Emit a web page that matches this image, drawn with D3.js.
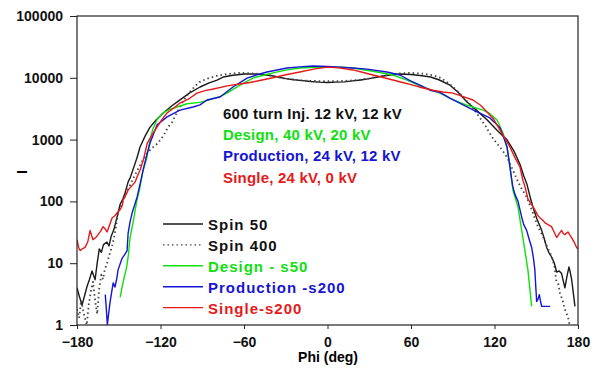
<!DOCTYPE html>
<html>
<head>
<meta charset="utf-8">
<script src="https://cdn.jsdelivr.net/npm/d3@7"></script>
<style>
  body { margin: 0; background: #fff; }
  svg { display: block; font-family: "Liberation Sans", Arial, sans-serif; }
  .tick text { font-size: 14px; font-weight: bold; fill: #111; }
  .domain { display: none; }
</style>
</head>
<body>
<svg id="chart" width="599" height="368"></svg>
<script>
// values: [phi (deg), I]
var spin50 = [[-180,4.0],[-178.5,3.0],[-176.4,2.1],[-174.5,3.0],[-172.8,4.2],[-171,5.5],[-169.2,7.5],[-167,5.4],[-165.5,10],[-164,17],[-162.5,15],[-161,20],[-158.5,22],[-157,19],[-155.5,27],[-153.5,35],[-152,48],[-150.5,65],[-149,90],[-147,110],[-145.5,137],[-143.3,205],[-141.5,250],[-139.7,330],[-137,500],[-134.7,760],[-131,1150],[-127.5,1590],[-123,2100],[-118,2700],[-112,3500],[-106,4400],[-99,5700],[-91.6,7100],[-85,8300],[-79.4,9200],[-75,10300],[-68,11000],[-60,11500],[-52,11500],[-45,11200],[-40,10800],[-35,10200],[-30,9700],[-24,9300],[-18,9000],[-12,8700],[-6,8500],[0,8400],[6,8500],[12,8600],[18,8900],[24,9200],[30,9700],[35,10200],[40,10700],[46,11200],[52,11500],[60,11300],[68,10800],[74,10300],[80,9300],[88,7600],[94,5800],[100,4100],[107,3000],[114.6,2100],[122,1400],[129,990],[134,650],[138.3,400],[141,260],[143.3,190],[145.5,120],[147.6,81],[150.5,52],[153.9,34],[155.5,26],[157.5,18],[159,15],[161,12.6],[163,10],[164.7,7.2],[166.5,7.5],[168.2,6.8],[170.6,4],[172,6],[173.5,8.7],[174.5,7],[175.4,5.5],[176.5,3.5],[177.8,2]];

var spin400 = [[-180,1.8],[-178.5,1.3],[-177,2.5],[-175,1.5],[-173,1],[-171.5,2.2],[-170,3.5],[-168.5,5],[-167,2.5],[-165.5,1.5],[-164,4],[-162.5,6.5],[-161.3,5.5],[-160,8],[-158.4,10],[-156.3,14.6],[-154.5,20],[-152.7,31],[-150.5,65],[-147.6,94],[-145,130],[-142,180],[-139,250],[-136,340],[-133,450],[-130,580],[-127,700],[-124,800],[-121.7,880],[-118,1150],[-114.5,1600],[-111.7,1900],[-108,2800],[-104,4100],[-100,5500],[-96,7000],[-92,8500],[-87,9600],[-80,10700],[-72,11500],[-64,12000],[-56,11900],[-48,11500],[-42,11000],[-36,10300],[-30,9700],[-22,9200],[-12,8900],[0,8800],[12,8900],[22,9200],[30,9800],[36,10400],[44,11200],[52,11800],[60,12000],[68,11700],[76,11000],[82,9800],[88,7800],[92.8,6300],[97,5000],[102,3800],[106,2900],[109.6,2240],[114,1600],[118.2,1100],[122,850],[125.5,680],[129,520],[133,330],[136,230],[139.5,160],[143.1,118],[147.6,65],[151,40],[154.8,27],[158,18],[161.3,12.6],[163,9],[164.5,5],[166,4.5],[167,3.3],[169,2.5],[170.5,1.8],[172.8,1.35],[174,1]];

var design = [[-149,2.8],[-147.5,4.2],[-146,6],[-144.3,8.7],[-143,14],[-141.9,26],[-139.5,48],[-137.1,100],[-135,160],[-132.5,320],[-129.9,500],[-127.5,1000],[-125.4,1500],[-122.5,2100],[-118.2,2700],[-113,3100],[-108.1,3370],[-100.9,3800],[-91.6,4000],[-86.6,4300],[-82.3,4600],[-77,5000],[-72.2,5650],[-62.9,7600],[-53.5,9900],[-46,11000],[-39.2,12000],[-30,13300],[-19.8,14400],[-10,14800],[0,14900],[10,14800],[18.3,14400],[27,13400],[35.6,12400],[47,11100],[57.1,9200],[68.6,7100],[80.8,5650],[90.2,4400],[100.2,3600],[106,3300],[111.7,3000],[116,2700],[121.8,2080],[126.1,1280],[129,760],[131.1,360],[133.3,150],[136.9,80],[140.4,26],[144,7.8],[146.7,2.0]];

var production = [[-159.7,3.1],[-158.9,1.8],[-158.2,1.0],[-157.3,1.5],[-156.3,2.3],[-155,3.5],[-154,4.8],[-152.7,4.1],[-151.5,5.5],[-150.5,7.8],[-147.6,12],[-145.5,14],[-144,16],[-143.3,30],[-142,45],[-140.4,65],[-136.8,118],[-134.5,200],[-132.5,320],[-130,550],[-127.5,880],[-122.5,1730],[-115.3,2330],[-106,3000],[-96.6,3370],[-91.6,3640],[-86.6,4370],[-77.2,4900],[-67.9,7100],[-57.8,9900],[-50,11300],[-43.5,12400],[-29.1,14400],[-20,15000],[-10.4,15500],[0,15300],[9,14900],[18,14400],[28.4,13800],[42.7,12400],[52,11100],[59.3,9000],[66,7700],[73.6,6300],[80.8,5800],[88,4700],[95,3900],[102.4,3200],[109,2700],[116.7,2240],[120,1900],[123.9,1550],[126.5,1100],[129,760],[131.1,360],[133,180],[134.7,130],[136.9,100],[139.5,56],[141,42],[143.1,34],[145,24],[146.7,18],[148,12],[149,7.8],[149.7,4],[150.3,2.4],[151.2,2.6],[152.2,3.1],[153.1,2.4],[153.9,2.0],[160,2.0]];

var single = [[-180,24],[-178.8,18],[-177.8,16],[-176.3,17],[-174.2,18],[-172.3,22],[-170.6,34],[-169.5,28],[-168.5,24],[-166.5,26],[-164.9,29],[-163,33],[-161.3,39],[-159.8,36],[-158.4,32],[-156.5,42],[-154.8,54],[-153,58],[-151.3,65],[-149.1,73],[-147.5,85],[-146.9,105],[-145,125],[-143.3,152],[-140.5,180],[-138.3,205],[-136.5,260],[-134.7,320],[-132,500],[-129.5,880],[-126,1200],[-122.5,1590],[-119,2100],[-115.3,2700],[-110,3300],[-106,3900],[-100,4500],[-93.8,5650],[-88,6200],[-82,6600],[-72,7400],[-62,8000],[-55.7,8400],[-47,9200],[-39.2,10000],[-30,11200],[-19.8,12400],[-10,13800],[0,14900],[8,14500],[18.3,13400],[25,12300],[32.7,11100],[40,10100],[47,9200],[54,8400],[61.4,7600],[68,6900],[75.8,6300],[83,5900],[90.2,5650],[97,5000],[104.5,4370],[110,3600],[114.6,2800],[119,2200],[123.9,1440],[127.5,1050],[131.1,760],[134.5,520],[138.3,360],[140.4,220],[142,170],[144,110],[146.5,90],[149,73],[151,60],[152.7,54],[154.5,50],[156.3,45],[158.5,42],[161,39],[162.8,32],[164.7,26],[166.5,30],[168.2,34],[169.5,30],[170.6,29],[172,31],[172.8,32],[174,29],[175.4,26],[177.2,22],[179,18],[180,17]];

var xTicks = [-180, -120, -60, 0, 60, 120, 180];
var yTicks = [1, 10, 100, 1000, 10000, 100000];

var seriesNames = ['Spin 50', 'Spin 400', 'Design - s50', 'Production -s200', 'Single-s200'];
var seriesData = [spin50, spin400, design, production, single];
var seriesColors = ['#1a1a1a', '#444', '#10e010', '#1515d5', '#e51a1a'];

var notes = ['600 turn Inj. 12 kV, 12 kV', 'Design, 40 kV, 20 kV', 'Production, 24 kV, 12 kV', 'Single, 24 kV, 0 kV'];
var noteColors = ['#111', '#10e010', '#1515d5', '#e51a1a'];

var svg = d3.select('#chart');

var x = d3.scaleLinear().domain([-180, 180]).range([77, 578]);
var y = d3.scaleLog().domain([1, 100000]).range([325, 16]);

svg.append('clipPath').attr('id', 'plot')
  .append('rect')
  .attr('x', 77).attr('y', 16)
  .attr('width', 501).attr('height', 309);

// axes
svg.append('g')
  .attr('transform', 'translate(0,325)')
  .call(d3.axisBottom(x).tickValues(xTicks).tickSize(4).tickPadding(8))
  .selectAll('line').attr('stroke', '#222');

svg.append('g')
  .attr('transform', 'translate(77,0)')
  .call(d3.axisLeft(y).tickValues(yTicks).tickFormat(d3.format('d')).tickSize(7).tickPadding(7))
  .selectAll('line').attr('stroke', '#222');

// curves
var line = d3.line()
  .x(function(d) { return x(d[0]); })
  .y(function(d) { return y(d[1]); });

svg.append('g')
  .attr('clip-path', 'url(#plot)')
  .selectAll('path')
  .data(seriesData)
  .join('path')
  .attr('d', line)
  .attr('fill', 'none')
  .attr('stroke', function(d, i) { return seriesColors[i]; })
  .attr('stroke-width', function(d, i) { return i == 1 ? 1.8 : 1.4; })
  .attr('stroke-dasharray', function(d, i) { return i == 1 ? '1.5,3' : null; })
  .attr('stroke-linejoin', 'round');

// frame
svg.append('rect')
  .attr('x', 77).attr('y', 16)
  .attr('width', 501).attr('height', 309)
  .attr('fill', 'none')
  .attr('stroke', '#222')
  .attr('stroke-width', 1.2);

// axis titles
svg.append('text')
  .attr('x', 328).attr('y', 362)
  .attr('text-anchor', 'middle')
  .style('font-size', '14px').style('font-weight', 'bold')
  .text('Phi (deg)');

svg.append('text')
  .attr('transform', 'translate(27,172) rotate(-90)')
  .attr('text-anchor', 'middle')
  .style('font-size', '14px').style('font-weight', 'bold')
  .text('I');

// annotation block
svg.append('g')
  .selectAll('text')
  .data(notes)
  .join('text')
  .attr('x', 223)
  .attr('y', function(d, i) { return 119 + i * 21.2; })
  .attr('fill', function(d, i) { return noteColors[i]; })
  .style('font-size', '15px').style('font-weight', 'bold')
  .style('letter-spacing', '0.2px')
  .text(function(d) { return d; });

// legend
var legend = svg.append('g')
  .selectAll('g')
  .data(seriesNames)
  .join('g')
  .attr('transform', function(d, i) { return 'translate(163,' + (224 + i * 20.9) + ')'; });

legend.append('line')
  .attr('x1', 0).attr('x2', 40)
  .attr('stroke', function(d, i) { return seriesColors[i]; })
  .attr('stroke-width', function(d, i) { return i == 1 ? 1.4 : 1.4; })
  .attr('stroke-dasharray', function(d, i) { return i == 1 ? '1.5,3' : null; });

legend.append('text')
  .attr('x', 45).attr('y', 6)
  .attr('fill', function(d, i) { return i < 2 ? '#111' : seriesColors[i]; })
  .style('font-size', '15px').style('font-weight', 'bold')
  .style('letter-spacing', '1px')
  .text(function(d) { return d; });
</script>
</body>
</html>
